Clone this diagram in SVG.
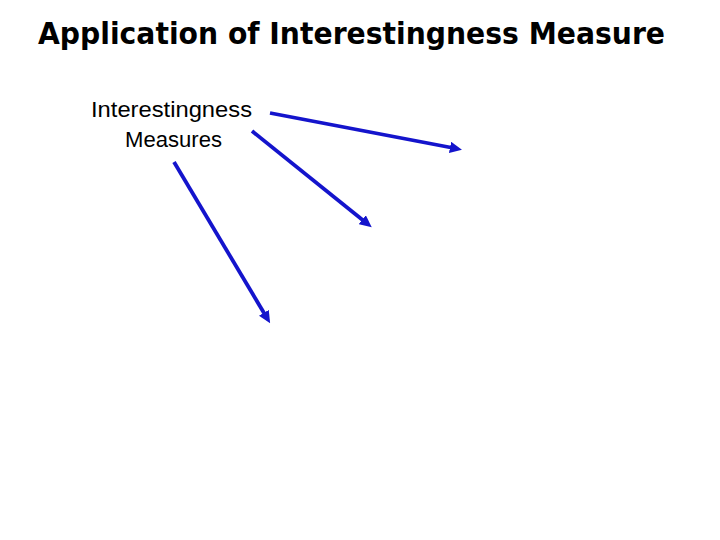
<svg xmlns="http://www.w3.org/2000/svg" width="720" height="540" viewBox="0 0 720 540">
<style>
.title{font-family:"DejaVu Sans Condensed","DejaVu Sans",sans-serif;font-weight:bold;font-size:30px;fill:#000}
.lbl{font-family:"Liberation Sans",Arial,sans-serif;font-size:22.5px;fill:#000}
.conn{stroke:#1414cc;stroke-width:3.8;fill:none;marker-end:url(#ah)}
</style>
<defs>
<marker id="ah" markerWidth="3.2" markerHeight="3" refX="1.6" refY="1.5" orient="auto" markerUnits="strokeWidth">
<path d="M0,0 L3.2,1.5 L0,3 Z" fill="#1414cc"/>
</marker>
</defs>
<rect width="720" height="540" fill="#fff"/>
<text class="title" x="351.5" y="43.5" text-anchor="middle" textLength="627" lengthAdjust="spacingAndGlyphs">Application of Interestingness Measure</text>
<g id="node-measures">
<text class="lbl" x="91" y="117" textLength="161" lengthAdjust="spacingAndGlyphs">Interestingness</text>
<text class="lbl" x="125" y="147" textLength="97" lengthAdjust="spacingAndGlyphs">Measures</text>
</g>
<g id="connectors">
<line class="conn" x1="270" y1="113" x2="456" y2="148.5"/>
<line class="conn" x1="252" y1="131" x2="367" y2="223.5"/>
<line class="conn" x1="174" y1="162" x2="267" y2="318"/>
</g>
</svg>
